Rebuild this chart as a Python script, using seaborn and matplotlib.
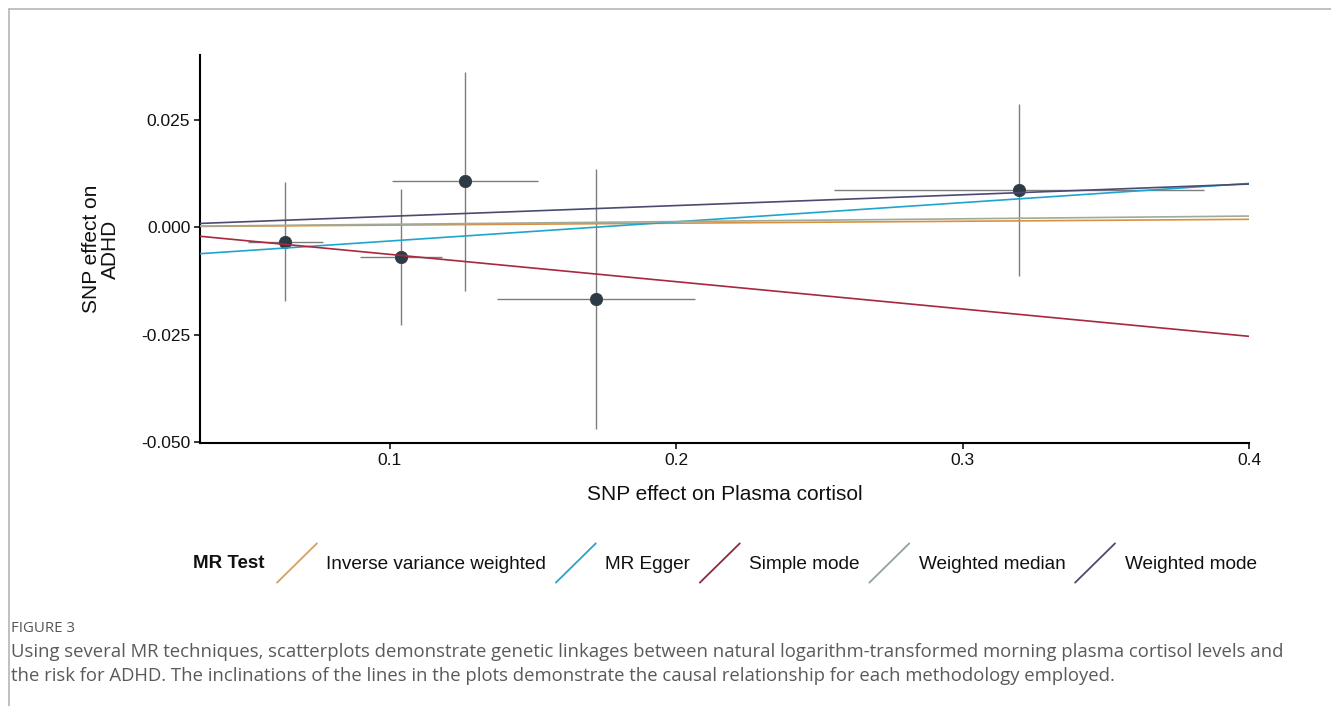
import numpy as np
import pandas as pd
import matplotlib
matplotlib.use("Agg")
import matplotlib.pyplot as plt
from matplotlib.lines import Line2D
from matplotlib.legend_handler import HandlerBase
from matplotlib.ticker import FixedLocator, FuncFormatter
import seaborn as sns

# ---- data ----
snp_exposure = [0.0635, 0.1039, 0.1264, 0.1720, 0.3196]
snp_outcome = [-0.0034, -0.0070, 0.0106, -0.0168, 0.0086]
se_exposure = [0.0130, 0.0144, 0.0255, 0.0346, 0.0646]
se_outcome = [0.0139, 0.0158, 0.0254, 0.0302, 0.0200]

methods = ["Inverse variance weighted", "MR Egger", "Simple mode",
           "Weighted median", "Weighted mode"]
intercepts = [0.0, -0.0077, 0.0, 0.0, 0.0]
slopes = [0.0045, 0.0446, -0.0635, 0.0064, 0.0250]
line_colors = ["#d9913f", "#1ea5cf", "#a8283e", "#9faa98", "#4d4a72"]
key_colors = ["#d4a06a", "#2aa3c6", "#8c2a36", "#8fa39b", "#4b4b6b"]

x_ticks = [0.1, 0.2, 0.3, 0.4]
y_ticks = [-0.050, -0.025, 0.000, 0.025]
x_limits = (0.0337, 0.400)
y_limits = (-0.0502, 0.0400)

df = pd.DataFrame({"exposure": snp_exposure, "outcome": snp_outcome,
                   "se_x": se_exposure, "se_y": se_outcome})

sns.set_theme(style="ticks")
plt.rcParams["font.family"] = ["Liberation Sans", "DejaVu Sans"]
plt.rcParams["axes.unicode_minus"] = False

W, H = 1331, 706
fig = plt.figure(figsize=(W / 100, H / 100), dpi=100)
fig.patch.set_facecolor("white")

ax_left, ax_right, ax_top, ax_bottom = 200, 1249, 55, 443
ax = fig.add_axes([ax_left / W, 1 - ax_bottom / H,
                   (ax_right - ax_left) / W, (ax_bottom - ax_top) / H])
ax.set_facecolor("white")

# error bars
ax.errorbar(df["exposure"], df["outcome"], yerr=df["se_y"], fmt="none",
            ecolor="#7d7d7d", elinewidth=1.0, capsize=0, zorder=1)
ax.errorbar(df["exposure"], df["outcome"], xerr=df["se_x"], fmt="none",
            ecolor="#7d7d7d", elinewidth=1.0, capsize=0, zorder=1)

# points
sns.scatterplot(data=df, x="exposure", y="outcome", ax=ax, s=80,
                color="#2c3b45", edgecolor="#2c3b45", linewidth=0.5, zorder=2,
                legend=False)

# regression lines (abline)
for m, a, b, c in zip(methods, intercepts, slopes, line_colors):
    ax.axline((0, a), slope=b, color=c, lw=1.2, zorder=3)

ax.set_xlim(*x_limits)
ax.set_ylim(*y_limits)
ax.xaxis.set_major_locator(FixedLocator(x_ticks))
ax.yaxis.set_major_locator(FixedLocator(y_ticks))
ax.xaxis.set_major_formatter(FuncFormatter(lambda v, p: f"{v:.1f}"))
ax.yaxis.set_major_formatter(FuncFormatter(lambda v, p: f"{v:.3f}"))
ax.tick_params(axis="both", direction="out", length=4, width=1.1,
               color="black", labelsize=12.5, labelcolor="#111111", pad=3)
for s in ["top", "right"]:
    ax.spines[s].set_visible(False)
for s in ["left", "bottom"]:
    ax.spines[s].set_color("black")
    ax.spines[s].set_linewidth(1.5)
ax.set_xlabel("")
ax.set_ylabel("")
ax.grid(False)

# axis titles
fig.text(((ax_left + ax_right) / 2) / W, 1 - 495 / H,
         "SNP effect on Plasma cortisol", ha="center", va="center",
         fontsize=15, color="#111111")
fig.text(101 / W, 1 - 249 / H, "SNP effect on\nADHD", ha="center",
         va="center", rotation=90, fontsize=15, color="#111111",
         multialignment="center", linespacing=0.95)


# legend with diagonal keys
class DiagHandler(HandlerBase):
    def create_artists(self, legend, orig_handle, xdescent, ydescent,
                       width, height, fontsize, trans):
        ln = Line2D([-xdescent, -xdescent + width],
                    [-ydescent, -ydescent + height],
                    color=orig_handle.get_color(), lw=1.3, transform=trans)
        return [ln]


handles = [Line2D([], [], color=c) for c in key_colors]
fig.text(193 / W, 1 - 564 / H, "MR Test", ha="left", va="center",
         fontsize=13.5, fontweight="bold", color="#111111")
leg = fig.legend(handles, methods, loc="center left",
                 bbox_to_anchor=(277 / W, 1 - 563 / H), ncol=5,
                 frameon=False, fontsize=13.7, handlelength=2.1,
                 handleheight=2.8, handletextpad=0.5, columnspacing=0.5,
                 borderpad=0, borderaxespad=0,
                 handler_map={Line2D: DiagHandler()})
for t in leg.get_texts():
    t.set_color("#111111")

# page frame lines
fig.add_artist(Line2D([9 / W, 1.0], [1 - 9 / H, 1 - 9 / H],
                      transform=fig.transFigure, color="#b5b5b5", lw=1.2))
fig.add_artist(Line2D([9 / W, 9 / W], [1 - 9 / H, 0.0],
                      transform=fig.transFigure, color="#b5b5b5", lw=1.2))

# caption
cap_font = ["Open Sans", "DejaVu Sans"]
fig.text(11 / W, 1 - 628 / H, "FIGURE 3", ha="left", va="center",
         fontsize=10.8, color="#555555", family=cap_font)
fig.text(11 / W, 1 - 652 / H,
         "Using several MR techniques, scatterplots demonstrate genetic linkages between natural logarithm-transformed morning plasma cortisol levels and",
         ha="left", va="center", fontsize=13.3, color="#5a5a5a", family=cap_font)
fig.text(11 / W, 1 - 676 / H,
         "the risk for ADHD. The inclinations of the lines in the plots demonstrate the causal relationship for each methodology employed.",
         ha="left", va="center", fontsize=13.3, color="#5a5a5a", family=cap_font)

fig.savefig("out.png", dpi=100, facecolor="white")
